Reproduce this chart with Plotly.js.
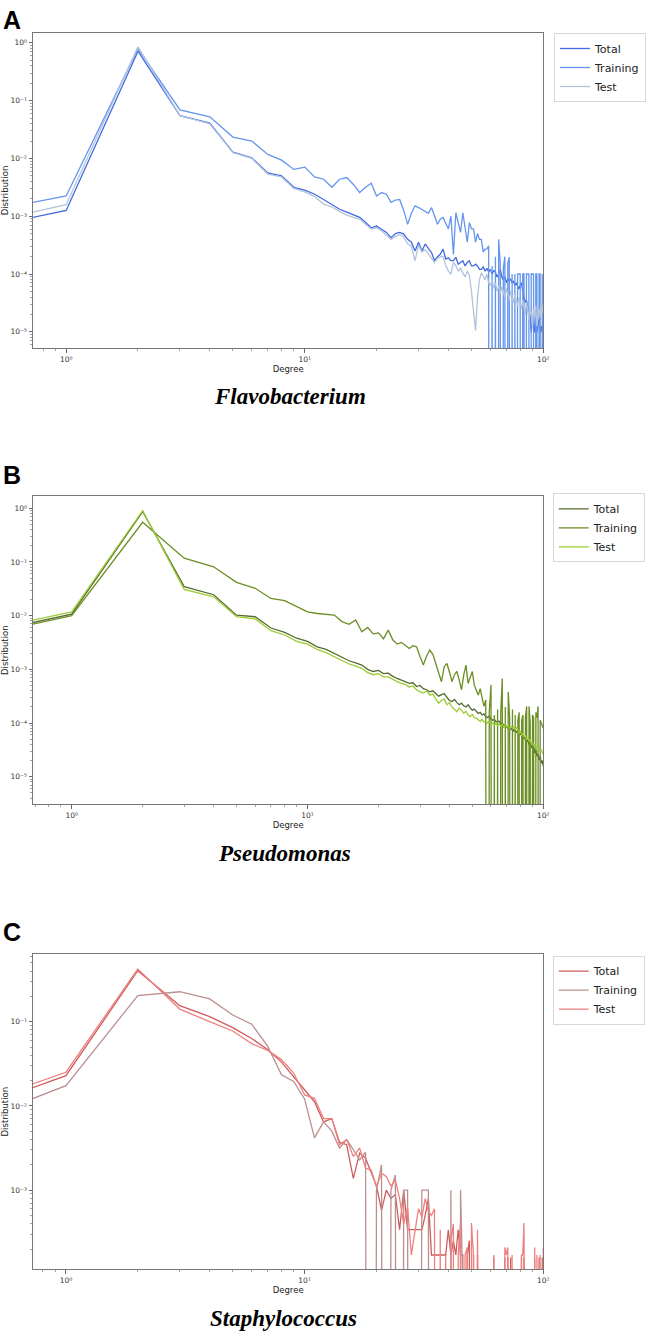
<!DOCTYPE html>
<html><head><meta charset="utf-8">
<script src="https://cdn.plot.ly/plotly-3.0.1.min.js"></script>
<style>html,body{margin:0;padding:0;background:#fff;} #chart{width:654px;height:1332px;}</style>
</head><body><div id="chart"></div>
<script>
// Degree values (x). The first point lies left of the visible axis range.
const degrees = [0.5,
 1,2,3,4,5,6,7,8,9,10,
 11,12,13,14,15,16,17,18,19,20,
 21,22,23,24,25,26,27,28,29,30,
 31,32,33,34,35,36,37,38,39,40,
 41,42,43,44,45,46,47,48,49,50,
 51,52,53,54,55,56,57,58,59,60,
 61,62,63,64,65,66,67,68,69,70,
 71,72,73,74,75,76,77,78,79,80,
 81,82,83,84,85,86,87,88,89,90,
 91,92,93,94,95,96,97,98,99,100];

// Values are log10(distribution); null = zero (drops to the axis floor)
// ---- A: Flavobacterium
const flavoTotalLog = [-3.16,
 -2.90,-0.145,-1.26,-1.39,-1.89,-1.99,-2.25,-2.30,-2.50,-2.55,
 -2.62,-2.71,-2.80,-2.88,-2.93,-2.98,-3.02,-3.11,-3.20,-3.17,
 -3.22,-3.28,-3.37,-3.30,-3.28,-3.31,-3.40,-3.45,-3.60,-3.45,
 -3.60,-3.48,-3.56,-3.63,-3.77,-3.70,-3.66,-3.57,-3.74,-3.72,
 -3.77,-3.77,-3.71,-3.83,-3.80,-3.77,-3.86,-3.80,-3.77,-3.86,
 -3.86,-3.83,-3.86,-3.92,-3.92,-3.88,-3.95,-3.90,-3.96,-3.92,
 -4.00,-3.94,-3.97,-4.05,-4.00,-3.92,-4.05,-4.10,-4.05,-4.15,
 -4.08,-4.12,-4.09,-4.15,-4.12,-4.20,-4.15,-4.22,-4.26,-4.20,
 -4.15,-4.30,-4.40,-4.49,-4.45,-4.60,-4.72,-4.70,-5.01,-4.80,
 -4.70,-5.01,-4.90,-5.01,-4.85,-4.78,-5.01,-4.90,-5.01,-4.80];
const flavoTrainLog = [-2.89,
 -2.65,-0.10,-1.16,-1.28,-1.63,-1.70,-1.93,-2.03,-2.19,-2.15,
 -2.32,-2.36,-2.50,-2.36,-2.33,-2.45,-2.59,-2.50,-2.43,-2.65,
 -2.59,-2.62,-2.76,-2.72,-2.71,-2.90,-3.14,-2.95,-2.82,-2.85,
 -2.88,-2.91,-2.95,-2.85,-3.00,-3.14,-3.05,-3.02,-3.12,-3.22,
 -3.00,-3.66,-2.94,-3.10,-3.28,-2.94,-3.20,-3.45,-3.11,-3.22,
 -3.22,-3.45,-3.30,-3.40,-3.40,-3.62,-3.57,-3.57,-3.51,null,
 -3.86,null,-3.70,null,-3.40,-3.82,null,-3.90,-3.70,null,
 -3.82,-3.71,null,-4.00,null,-4.00,null,-4.00,-4.00,-4.00,
 null,-4.00,-4.00,null,-4.00,-4.00,-4.00,null,-4.00,-4.00,
 -4.00,null,-4.00,-4.00,null,-4.00,-4.00,null,-4.00,null];
const flavoTestLog = [-3.08,
 -2.80,-0.07,-1.26,-1.40,-1.90,-2.00,-2.27,-2.32,-2.52,-2.58,
 -2.66,-2.79,-2.84,-2.92,-2.98,-3.02,-3.05,-3.14,-3.22,-3.20,
 -3.25,-3.33,-3.40,-3.35,-3.32,-3.36,-3.48,-3.52,-3.77,-3.50,
 -3.62,-3.58,-3.65,-3.72,-3.80,-3.73,-3.70,-3.70,-3.85,-3.95,
 -4.00,-3.80,-3.86,-3.95,-3.90,-3.98,-4.05,-3.95,-4.02,-4.30,
 -4.60,-4.98,-4.40,-4.10,-3.98,-4.05,-4.10,-4.00,-4.15,-4.20,
 -4.10,-4.25,-4.15,-4.30,-4.20,-4.35,-4.22,-4.30,-4.40,-4.25,
 -4.35,-4.45,-4.30,-4.40,-4.50,-4.35,-4.45,-4.55,-4.40,-4.50,
 -4.60,-4.45,-4.55,-4.70,-4.50,-4.60,-4.80,-4.55,-4.70,-4.90,
 -4.60,-4.75,-4.55,-4.90,-4.65,-4.60,-4.75,-4.50,-4.55,-4.70];

// ---- B: Pseudomonas
const pseudoTotalLog = [-2.26,
 -1.97,-0.06,-1.46,-1.61,-1.99,-2.02,-2.23,-2.31,-2.42,-2.48,
 -2.58,-2.63,-2.70,-2.78,-2.84,-2.88,-2.92,-3.00,-3.04,-3.02,
 -3.08,-3.07,-3.13,-3.17,-3.20,-3.22,-3.26,-3.25,-3.32,-3.30,
 -3.36,-3.38,-3.42,-3.40,-3.45,-3.50,-3.47,-3.45,-3.52,-3.58,
 -3.60,-3.56,-3.62,-3.66,-3.63,-3.68,-3.70,-3.66,-3.72,-3.76,
 -3.74,-3.78,-3.82,-3.80,-3.85,-3.83,-3.88,-3.90,-3.87,-3.92,
 -3.95,-3.93,-3.98,-3.96,-3.97,-4.02,-4.00,-4.05,-4.03,-4.08,
 -4.10,-4.06,-4.12,-4.10,-4.15,-4.12,-4.18,-4.14,-4.16,-4.22,
 -4.18,-4.25,-4.30,-4.26,-4.35,-4.32,-4.40,-4.38,-4.44,-4.48,
 -4.42,-4.56,-4.50,-4.62,-4.58,-4.69,-4.62,-4.75,-4.70,-4.81];
const pseudoTrainLog = [-2.29,
 -2.00,-0.26,-0.93,-1.09,-1.38,-1.49,-1.68,-1.72,-1.83,-1.93,
 -1.96,-1.97,-1.99,-2.11,-2.16,-2.08,-2.30,-2.22,-2.34,-2.32,
 -2.43,-2.27,-2.45,-2.53,-2.50,-2.55,-2.61,-2.56,-2.58,-2.76,
 -2.92,-2.75,-2.64,-2.72,-2.90,-3.10,-3.23,-2.95,-2.89,-3.05,
 -3.23,-3.10,-3.04,-3.20,-3.38,-3.10,-2.92,-3.26,-3.15,-3.04,
 -3.30,-3.40,-3.48,-3.36,-3.50,-3.69,-3.57,null,-3.80,-3.29,
 null,-3.85,null,-3.75,null,-3.80,-3.17,null,-3.70,null,
 -3.42,-3.90,null,-3.75,null,-3.85,null,-3.95,-3.80,null,
 -3.95,-3.85,null,-3.90,-3.69,null,-3.69,-4.00,null,-3.85,
 -3.90,null,-3.80,-3.90,-3.69,null,-3.95,-4.00,-4.05,-4.10];
const pseudoTestLog = [-2.21,
 -1.93,-0.045,-1.51,-1.65,-2.02,-2.06,-2.28,-2.36,-2.48,-2.53,
 -2.63,-2.69,-2.76,-2.84,-2.90,-2.94,-2.98,-3.06,-3.10,-3.08,
 -3.14,-3.14,-3.19,-3.23,-3.26,-3.28,-3.33,-3.31,-3.38,-3.42,
 -3.44,-3.40,-3.48,-3.46,-3.55,-3.63,-3.58,-3.55,-3.66,-3.62,
 -3.70,-3.74,-3.79,-3.72,-3.76,-3.82,-3.78,-3.85,-3.88,-3.84,
 -3.90,-3.91,-3.94,-3.97,-3.93,-3.98,-3.96,-4.00,-3.97,-4.02,
 -4.00,-4.04,-4.01,-4.05,-4.02,-4.06,-4.03,-4.08,-4.04,-4.07,
 -4.05,-4.10,-4.06,-4.09,-4.07,-4.12,-4.08,-4.14,-4.18,-4.15,
 -4.22,-4.20,-4.26,-4.24,-4.30,-4.28,-4.34,-4.31,-4.38,-4.36,
 -4.42,-4.40,-4.45,-4.43,-4.48,-4.46,-4.52,-4.50,-4.55,-4.58];

// ---- C: Staphylococcus
const staphTotalLog = [-1.95,
 -1.64,-0.394,-0.81,-0.94,-1.07,-1.20,-1.33,-1.48,-1.65,-1.81,
 -1.95,-2.19,-2.15,-2.43,-2.46,-2.86,-2.56,-2.62,-2.80,-2.95,
 -3.24,-3.00,-3.10,-3.05,-3.47,-3.00,-3.47,-3.47,-3.47,-3.47,
 -3.47,-3.30,-3.10,-3.77,-3.77,-3.77,-3.77,-3.77,-3.77,-3.47,
 -3.77,-3.60,-3.77,-3.47,-3.77,-3.77,null,-3.77,-3.60,null,
 -3.77,null,-3.77,null,null,null,null,null,null,null,
 null,-3.80,null,null,null,null,null,null,-3.80,null,
 -3.80,null,-3.80,null,null,null,null,null,null,null,
 -3.80,null,-3.80,null,null,null,null,null,null,null,
 null,-3.80,null,null,null,-3.80,null,null,-3.80,null];
const staphTrainLog = [-2.09,
 -1.76,-0.69,-0.644,-0.73,-0.92,-1.03,-1.29,-1.63,-1.71,-1.92,
 -2.38,-2.19,-2.30,-2.50,-2.40,-2.52,-2.64,-2.55,null,-3.00,
 -2.70,null,-3.00,-2.82,null,-3.00,-3.00,null,null,null,
 -3.00,-3.00,-3.00,null,null,null,null,null,null,null,
 -3.00,null,null,null,-3.00,null,null,null,null,null,
 null,null,null,null,null,null,null,null,null,null,
 null,null,null,null,null,null,null,null,null,null,
 null,null,null,null,null,null,null,null,null,null,
 null,null,null,null,null,null,null,null,null,null,
 null,null,null,null,null,null,null,null,null,null];
const staphTestLog = [-1.90,
 -1.60,-0.374,-0.85,-1.00,-1.11,-1.26,-1.34,-1.45,-1.61,-1.87,
 -1.91,-2.15,-2.15,-2.46,-2.40,-2.60,-2.50,-2.74,-2.76,-2.96,
 -2.80,-2.84,-2.95,-2.88,-3.10,-3.40,-3.20,-3.77,-3.47,-3.22,
 -3.32,-3.10,-3.25,-3.30,-3.22,null,-3.47,null,-3.77,null,
 -3.60,-3.40,null,-3.77,-3.39,null,-3.77,-3.68,null,-3.39,
 -3.77,null,-3.47,null,null,null,null,null,null,null,
 null,-3.77,null,null,null,null,null,null,-3.68,-3.77,
 -3.68,null,null,-3.77,null,null,null,null,null,null,
 -3.77,-3.77,-3.39,null,null,null,null,null,null,null,
 null,-3.68,null,-3.77,null,null,-3.77,null,null,-3.68];

const seriesNames = ['Total', 'Training', 'Test'];
const panelTitles = ['Flavobacterium', 'Pseudomonas', 'Staphylococcus'];
const panelLetters = ['A', 'B', 'C'];
const colorsA = ['#4169E1', '#6495ED', '#B0C4DE'];
const colorsB = ['#556B2F', '#6B8E23', '#9ACD32'];
const colorsC = ['#CD5C5C', '#BC8F8F', '#F08080'];

// ---------- drawing ----------
const W = 654, H = 1332;
const ZERO_FLOOR = 1e-30; // like matplotlib's clipping of zeros on a log axis
const toVal = arr => arr.map(v => v === null ? ZERO_FLOOR : Math.pow(10, v));
const px = x => x / W;
const py = y => 1 - y / H;

const panels = [
  {data: [flavoTotalLog, flavoTrainLog, flavoTestLog], colors: colorsA,
   top: 33, bottom: 348, xr: [-0.139, 2.0], yr: [-5.28, 0.17], yTicks: [-5,-4,-3,-2,-1,0],
   legY: 33, legX: 554, titleY: 396, titleX: 290, letterY: 4},
  {data: [pseudoTotalLog, pseudoTrainLog, pseudoTestLog], colors: colorsB,
   top: 496, bottom: 804.3, xr: [-0.164, 2.0], yr: [-5.514, 0.229], yTicks: [-5,-4,-3,-2,-1,0],
   legY: 493.3, legX: 552.7, titleY: 853, titleX: 284, letterY: 459},
  {data: [staphTotalLog, staphTrainLog, staphTestLog], colors: colorsC,
   top: 954, bottom: 1269.3, xr: [-0.138, 2.0], yr: [-3.94, -0.196], yTicks: [-3,-2,-1],
   legY: 955.7, legX: 552.7, titleY: 1318, titleX: 283, letterY: 916}
];

const tickFont = {family: 'DejaVu Sans', size: 7.5, color: '#333'};
const labFont = {family: 'DejaVu Sans', size: 8.5, color: '#222'};
const SUP = {'0':'\u2070','1':'\u00B9','2':'\u00B2','3':'\u00B3','4':'\u2074','5':'\u2075','-':'\u207B'};
const expText = p => '10' + String(p).split('').map(c => SUP[c]).join('');

function minorVals(lo, hi) {
  const out = [];
  for (let p = lo; p <= hi; p++) for (let m = 2; m <= 9; m++) out.push(m * Math.pow(10, p));
  return out;
}

const traces = [];
const layout = {
  width: W, height: H, margin: {l: 0, r: 0, t: 0, b: 0},
  paper_bgcolor: '#fff', plot_bgcolor: '#fff', showlegend: true,
  annotations: [], shapes: []
};

panels.forEach((p, i) => {
  const s = i === 0 ? '' : String(i + 1);
  const legName = 'legend' + s;
  p.data.forEach((arr, k) => {
    traces.push({
      type: 'scatter', mode: 'lines', x: degrees, y: toVal(arr),
      name: seriesNames[k], xaxis: 'x' + s, yaxis: 'y' + s, legend: legName,
      line: {color: p.colors[k], width: 1.3}, hoverinfo: 'x+y'
    });
  });
  const xdom = [33 / W, 543.3 / W];
  const ydom = [py(p.bottom), py(p.top)];
  layout['xaxis' + s] = {
    type: 'log', domain: xdom, range: p.xr, anchor: 'y' + s,
    showline: true, linecolor: '#777', linewidth: 1, mirror: true,
    ticks: 'outside', ticklen: 3.5, tickwidth: 0.8, tickcolor: '#444',
    tickmode: 'array', tickvals: [1, 10, 100], ticktext: [expText(0), expText(1), expText(2)],
    tickfont: tickFont, showgrid: false, zeroline: false,
    minor: {tickmode: 'array', tickvals: minorVals(-1, 1), ticks: 'outside', ticklen: 2, tickwidth: 0.6, tickcolor: '#666', showgrid: false},
    title: {text: 'Degree', font: labFont, standoff: 3}, automargin: false
  };
  layout['yaxis' + s] = {
    type: 'log', domain: ydom, range: p.yr, anchor: 'x' + s,
    showline: true, linecolor: '#777', linewidth: 1, mirror: true,
    ticks: 'outside', ticklen: 3.5, tickwidth: 0.8, tickcolor: '#444',
    tickmode: 'array', tickvals: p.yTicks.map(t => Math.pow(10, t)), ticktext: p.yTicks.map(expText),
    tickfont: tickFont, showgrid: false, zeroline: false,
    minor: {tickmode: 'array', tickvals: minorVals(Math.floor(p.yr[0]), 0), ticks: 'outside', ticklen: 2, tickwidth: 0.6, tickcolor: '#666', showgrid: false},
    title: {text: 'Distribution', font: labFont, standoff: 2}, automargin: false
  };
  layout[legName] = {
    x: px(p.legX), y: py(p.legY), xanchor: 'left', yanchor: 'top',
    bgcolor: '#fff', bordercolor: '#d8d8d8', borderwidth: 1,
    font: {family: 'DejaVu Sans', size: 11, color: '#222'}, tracegroupgap: 0
  };
  layout.annotations.push({
    text: '<b>' + panelLetters[i] + '</b>', xref: 'paper', yref: 'paper',
    x: px(1), y: py(p.letterY), xanchor: 'left', yanchor: 'top', showarrow: false,
    font: {family: 'Liberation Sans', size: 25, color: '#000'}
  });
  layout.annotations.push({
    text: '<b><i>' + panelTitles[i] + '</i></b>', xref: 'paper', yref: 'paper',
    x: px(p.titleX), y: py(p.titleY), xanchor: 'center', yanchor: 'middle', showarrow: false,
    font: {family: 'Liberation Serif', size: 23, color: '#000'}
  });
});

Plotly.newPlot('chart', traces, layout, {displayModeBar: false, staticPlot: true});
</script>
</body></html>
